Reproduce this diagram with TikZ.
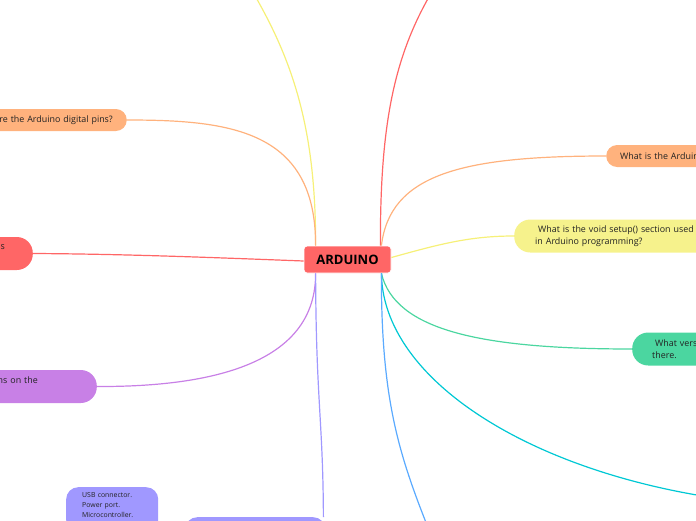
\documentclass[tikz,border=0pt]{standalone}
\usepackage{fontspec}
\setmainfont{Open Sans}
\usepackage{tikz}
\definecolor{rootred}{RGB}{255,102,102}
\definecolor{myorange}{RGB}{255,178,125}
\definecolor{myyellow}{RGB}{246,242,140}
\definecolor{myyellowline}{RGB}{246,240,120}
\definecolor{myred}{RGB}{255,102,102}
\definecolor{mypurple}{RGB}{200,128,230}
\definecolor{mylilac}{RGB}{160,152,255}
\definecolor{mygreen}{RGB}{75,214,160}
\definecolor{mycyan}{RGB}{0,200,212}
\definecolor{myblue}{RGB}{90,170,255}
\definecolor{textgray}{RGB}{35,35,35}
\tikzset{
    common/.style={inner ysep=0pt, text=textgray, font=\fontsize{8.9}{12}\selectfont},
    leaf/.style={common, rounded corners=11pt, minimum height=22pt, inner xsep=14pt},
    twoline/.style={common, rounded corners=16pt, minimum height=33pt},
    lefttopic/.style={align=right, text width=180pt},
    righttopic/.style={align=left, text width=200pt},
    sub/.style={common, rounded corners=12pt, fill=mylilac, font=\fontsize{6.9}{10}\selectfont},
    root/.style={fill=rootred, draw=white, line width=0.8pt, rounded corners=3pt,
        minimum width=87pt, minimum height=27pt, font=\fontsize{13}{14}\selectfont\bfseries},
    link/.style={line width=1.2pt}
}

\begin{document}
\begin{tikzpicture}[x=1pt, y=-1pt]
    \useasboundingbox (0,0) rectangle (696,520);
    \clip (0,0) rectangle (696,520);

    \node[root] (arduino) at (347.5,259.5) {ARDUINO};

    % left side
    \node[leaf, lefttopic, fill=myorange, anchor=east] (digital) at (127,120) {re the Arduino digital pins?};
    \node[twoline, lefttopic, fill=myred, inner xsep=28pt, anchor=east] (analog) at (33,253.5) {ns\\\mbox{}};
    \node[twoline, lefttopic, fill=mypurple, inner xsep=59pt, anchor=east] (power) at (97,386.5) {ns on the\\\mbox{}};

    % right side
    \node[leaf, righttopic, fill=myorange, anchor=west] (whatis) at (606,156) {What is the Arduin};
    \node[twoline, righttopic, fill=myyellow, inner xsep=21pt, anchor=west] (setup) at (514,236) {\ What is the void setup() section used f\\in Arduino programming?};
    \node[twoline, righttopic, fill=mygreen, inner xsep=20pt, anchor=west] (versions) at (632,349) {\ What vers\\there.};

    % bottom
    \node[sub, align=left, text width=60pt, inner xsep=16pt, inner ysep=5pt, text depth=30pt, anchor=north west] (parts) at (66,487)
        {USB connector.\\Power port.\\Microcontroller.};
    \node[sub, minimum width=140pt, minimum height=40pt, anchor=north west] (board) at (185,517) {};

    % free ends above and below the picture
    \coordinate (up-left) at (220,-60);
    \coordinate (up-right) at (460,-50);
    \coordinate (down-right) at (780,505);
    \coordinate (down) at (445,570);

    \draw[link, myyellowline] ([xshift=12pt]arduino.north west) .. controls (316,100) and (280,30) .. (up-left);
    \draw[link, myred] ([xshift=-11pt]arduino.north east) .. controls (380,100) and (400,30) .. (up-right);
    \draw[link, myorange] ([xshift=12pt]arduino.north west) .. controls (316,130) and (230,120) .. (digital.east);
    \draw[link, myred] ([yshift=-1.5pt]arduino.west) .. controls (200,257) and (120,254) .. (analog.east);
    \draw[link, mypurple] ([xshift=12pt]arduino.south west) .. controls (316,360) and (220,387) .. (power.east);
    \draw[link, mylilac] ([xshift=12pt]arduino.south west) .. controls (316,400) and (323,420) .. ([xshift=-2pt]board.north east);
    \draw[link, myorange] ([xshift=-10pt]arduino.north east) .. controls (390,175) and (460,156) .. (whatis.west);
    \draw[link, myyellowline] ([yshift=2pt]arduino.east) .. controls (440,244) and (470,236) .. (setup.west);
    \draw[link, mygreen] ([xshift=-10pt]arduino.south east) .. controls (395,330) and (480,349) .. (versions.west);
    \draw[link, mycyan] ([xshift=-10pt]arduino.south east) .. controls (383,390) and (560,490) .. (down-right);
    \draw[link, myblue] ([xshift=-10pt]arduino.south east) .. controls (381,420) and (405,470) .. (down);
\end{tikzpicture}
\end{document}
